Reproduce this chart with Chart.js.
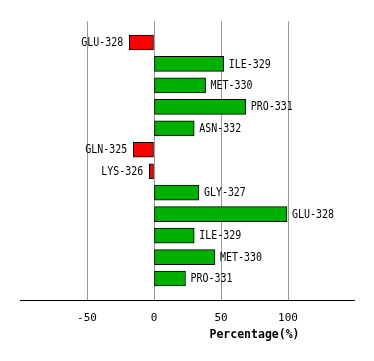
<!DOCTYPE html>
<html><head><meta charset="utf-8">
<script src="https://cdn.jsdelivr.net/npm/chart.js@4"></script>
<style>html,body{margin:0;padding:0;background:#fff}#wrap{width:374px;height:361px}</style>
</head><body><div id="wrap"><canvas id="c" width="374" height="361"></canvas></div>
<script>
const categories = ['', 'GLU-328', 'ILE-329', 'MET-330', 'PRO-331', 'ASN-332', 'GLN-325', 'LYS-326', 'GLY-327', 'GLU-328', 'ILE-329', 'MET-330', 'PRO-331', ''];
const values = [null, -18.5, 52, 38.5, 68.5, 30, -15.5, -3.5, 33.5, 99.3, 30, 45.5, 23.5, null];
const tickValues = [-50, 0, 50, 100];
const axisTitle = 'Percentage(%)';
const monoFont = '"DejaVu Sans Mono", monospace';

function narrowText(ctx, text, x, y, align, sx) {
  ctx.save();
  ctx.translate(x, y);
  ctx.scale(sx, 1);
  ctx.textAlign = align;
  ctx.fillText(text, 0, 0);
  ctx.restore();
}

const labelPlugin = {
  id: 'barLabels',
  afterDatasetsDraw(chart) {
    const ctx = chart.ctx;
    const meta = chart.getDatasetMeta(0);
    ctx.save();
    ctx.font = '12px ' + monoFont;
    ctx.fillStyle = '#000';
    ctx.textBaseline = 'middle';
    meta.data.forEach((el, i) => {
      const v = values[i];
      if (v === null || v === undefined) return;
      if (v >= 0) narrowText(ctx, categories[i], el.x + 5, el.y + 0.5, 'left', 0.83);
      else narrowText(ctx, categories[i], el.x - 6, el.y + 0.5, 'right', 0.83);
    });
    const xs = chart.scales.x;
    ctx.font = 'bold 12.5px ' + monoFont;
    narrowText(ctx, axisTitle, xs.getPixelForValue(75), 335, 'center', 0.92);
    ctx.strokeStyle = '#000';
    ctx.lineWidth = 1;
    ctx.beginPath();
    ctx.moveTo(chart.chartArea.left, chart.chartArea.bottom + 0.5);
    ctx.lineTo(chart.chartArea.right, chart.chartArea.bottom + 0.5);
    ctx.stroke();
    ctx.restore();
  }
};

new Chart(document.getElementById('c'), {
  type: 'bar',
  data: {
    labels: categories,
    datasets: [{
      data: values,
      backgroundColor: values.map(v => v < 0 ? '#ff0000' : '#00b000'),
      borderColor: '#000',
      borderWidth: 1,
      borderSkipped: false,
      barThickness: 15
    }]
  },
  options: {
    indexAxis: 'y',
    responsive: false,
    animation: false,
    layout: { padding: { left: 20, right: 19, top: 21, bottom: 0 } },
    plugins: { legend: { display: false }, tooltip: { enabled: false } },
    scales: {
      y: { display: false, offset: false },
      x: {
        min: -100, max: 150,
        afterBuildTicks(s) { s.ticks = tickValues.map(v => ({ value: v })); },
        afterFit(s) { s.height = 61; },
        border: { display: false },
        grid: { color: '#999999', drawTicks: false, lineWidth: 1 },
        ticks: { color: '#000', font: { family: monoFont, size: 11 }, padding: 12 }
      }
    }
  },
  plugins: [labelPlugin]
});
</script></body></html>
